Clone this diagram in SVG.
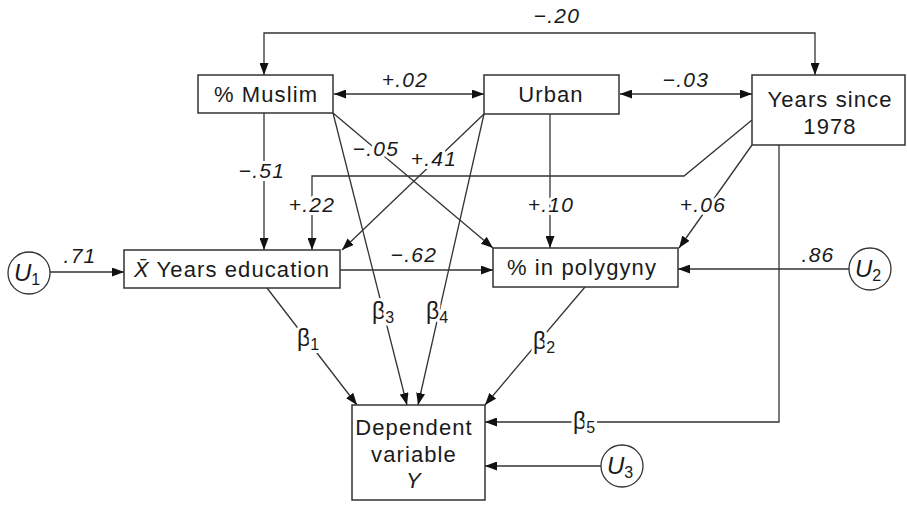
<svg xmlns="http://www.w3.org/2000/svg" width="907" height="505" viewBox="0 0 907 505">
<style>
  text { font-family: "Liberation Sans", Arial, sans-serif; fill: #1a1a1a; }
  .node { font-size: 22px; letter-spacing: 1.1px; text-anchor: middle; }
  .lab { font-size: 21px; letter-spacing: 1.2px; font-style: italic; text-anchor: middle; paint-order: stroke; stroke: #fff; stroke-width: 6px; stroke-linejoin: round; }
  .beta { font-size: 23px; text-anchor: middle; paint-order: stroke; stroke: #fff; stroke-width: 6px; stroke-linejoin: round; }
  .box { fill: #fff; stroke: #333; stroke-width: 1.5; }
  .circ { fill: #fff; stroke: #333; stroke-width: 1.3; }
  .u { font-size: 24px; font-style: italic; text-anchor: middle; }
  .c { fill: none; stroke: #333; stroke-width: 1.3; }
  .a { marker-end: url(#ah); }
  .aa { marker-end: url(#ah); marker-start: url(#ah); }
</style>
<defs>
  <marker id="ah" markerUnits="userSpaceOnUse" markerWidth="12" markerHeight="9" refX="12" refY="4.5" orient="auto-start-reverse">
    <path d="M0,0 L12,4.5 L0,9 z" fill="#111"/>
  </marker>
</defs>
<rect width="907" height="505" fill="#fff"/>

<g id="connectors">
  <path class="c aa" d="M264,75 L264,33 L815,33 L815,75"/>
  <line class="c aa" x1="334" y1="94" x2="484" y2="94"/>
  <line class="c aa" x1="620" y1="94" x2="752" y2="94"/>
  <line class="c a" x1="264" y1="113" x2="264" y2="250"/>
  <line class="c a" x1="333" y1="113" x2="493" y2="248"/>
  <line class="c a" x1="333" y1="113" x2="407" y2="405"/>
  <line class="c a" x1="484" y1="114" x2="342" y2="250"/>
  <line class="c a" x1="484" y1="114" x2="418" y2="405"/>
  <line class="c a" x1="550" y1="114" x2="550" y2="248"/>
  <path class="c a" d="M752,120 L684,176 L312,176 L312,250"/>
  <line class="c a" x1="752" y1="145" x2="679" y2="248"/>
  <line class="c a" x1="50" y1="272" x2="124" y2="272"/>
  <line class="c a" x1="340" y1="270" x2="493" y2="270"/>
  <line class="c a" x1="849" y1="269" x2="678" y2="269"/>
  <line class="c a" x1="267" y1="288" x2="357" y2="405"/>
  <line class="c a" x1="585" y1="287" x2="485" y2="405"/>
  <path class="c a" d="M779,145 L779,422 L485,422"/>
  <line class="c a" x1="601" y1="466" x2="485" y2="466"/>

  <text class="lab" x="557" y="23">−.20</text>
  <text class="lab" x="405" y="87">+.02</text>
  <text class="lab" x="686" y="87">−.03</text>
  <text class="lab" x="262" y="178">−.51</text>
  <text class="lab" x="376" y="156">−.05</text>
  <text class="lab" x="434" y="166">+.41</text>
  <text class="lab" x="312" y="212">+.22</text>
  <text class="lab" x="551" y="212">+.10</text>
  <text class="lab" x="703" y="212">+.06</text>
  <text class="lab" x="80" y="263">.71</text>
  <text class="lab" x="414" y="262">−.62</text>
  <text class="lab" x="818" y="262">.86</text>
  <text class="beta" x="308" y="346">β<tspan font-size="16" dy="4">1</tspan></text>
  <text class="beta" x="383" y="319">β<tspan font-size="16" dy="4">3</tspan></text>
  <text class="beta" x="437" y="319">β<tspan font-size="16" dy="4">4</tspan></text>
  <text class="beta" x="544" y="349">β<tspan font-size="16" dy="4">2</tspan></text>
  <text class="beta" x="584" y="429">β<tspan font-size="16" dy="4">5</tspan></text>
</g>

<g id="muslim">
  <rect class="box" x="198" y="75" width="135" height="38"/>
  <text class="node" x="266" y="102">% Muslim</text>
</g>
<g id="urban">
  <rect class="box" x="484" y="75" width="135" height="39"/>
  <text class="node" x="551" y="102">Urban</text>
</g>
<g id="years1978">
  <rect class="box" x="752" y="75" width="153" height="70"/>
  <text class="node" x="830" y="107">Years since</text>
  <text class="node" x="830" y="134">1978</text>
</g>
<g id="education">
  <rect class="box" x="124" y="250" width="216" height="38"/>
  <text class="node" x="232" y="277"><tspan font-style="italic">X̄</tspan> Years education</text>
</g>
<g id="polygyny">
  <rect class="box" x="493" y="248" width="185" height="39"/>
  <text class="node" x="582" y="275">% in polygyny</text>
</g>
<g id="dependent">
  <rect class="box" x="352" y="405" width="133" height="95"/>
  <text class="node" x="414" y="435">Dependent</text>
  <text class="node" x="414" y="462">variable</text>
  <text class="node" x="414" y="488" font-style="italic">Y</text>
</g>
<g id="u1">
  <circle class="circ" cx="29" cy="273" r="21"/>
  <text class="u" x="27" y="281">U<tspan font-size="16" font-style="normal" dy="4">1</tspan></text>
</g>
<g id="u2">
  <circle class="circ" cx="870" cy="269" r="21"/>
  <text class="u" x="868" y="277">U<tspan font-size="16" font-style="normal" dy="4">2</tspan></text>
</g>
<g id="u3">
  <circle class="circ" cx="622" cy="466" r="21"/>
  <text class="u" x="620" y="474">U<tspan font-size="16" font-style="normal" dy="4">3</tspan></text>
</g>
</svg>
